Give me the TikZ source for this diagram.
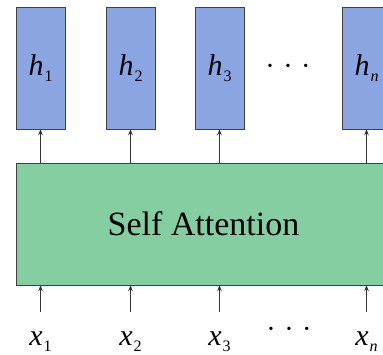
\documentclass[tikz,border=0pt]{standalone}
\usepackage{fontspec}
\setmainfont{Liberation Serif}
\usetikzlibrary{arrows.meta}
\definecolor{hblue}{RGB}{138,165,226}
\definecolor{sgreen}{RGB}{132,206,162}
\newcommand{\vsym}[2]{\textit{#1}\hspace{1pt}\raisebox{-0.45ex}{\fontsize{16}{16}\selectfont #2}}
\newcommand{\bdots}{{\fontsize{14}{14}\selectfont\textbullet\hspace{13pt}\textbullet\hspace{13pt}\textbullet}}

\begin{document}
\begin{tikzpicture}[x=1pt, y=-1pt, every node/.style={font=\fontsize{30}{30}\selectfont},
	hbox/.style={draw=black!75, fill=hblue, minimum width=49pt, minimum height=122pt, inner sep=0pt},
	sabox/.style={draw=black!75, fill=sgreen, minimum width=375pt, minimum height=122pt, inner sep=0pt},
	arr/.style={draw=black!80, line width=0.8pt, -{Stealth[length=6pt,width=4.5pt]}}]
	\clip (0,0) rectangle (383,355);
	\node[hbox] (h1) at (40.5,68) {\vsym{h}{1}};
	\node[hbox] (h2) at (130.5,68) {\vsym{h}{2}};
	\node[hbox] (h3) at (219.5,68) {\vsym{h}{3}};
	\node[hbox] (hn) at (366.5,68) {\vsym{h}{\textit{n}}};
	\node (hdots) at (288,67) {\bdots};
	\node[sabox, font=\fontsize{34}{34}\selectfont] (sa) at (203.5,224) {Self Attention};
	\node[anchor=base] (x1) at (40.5,345) {\vsym{x}{1}};
	\node[anchor=base] (x2) at (130.5,345) {\vsym{x}{2}};
	\node[anchor=base] (x3) at (219.5,345) {\vsym{x}{3}};
	\node[anchor=base] (xn) at (366.5,345) {\vsym{x}{\textit{n}}};
	\node (xdots) at (289,330) {\bdots};
	\foreach \i in {1,2,3,n} {
		\draw[arr] (sa.north -| h\i) -- (h\i);
		\draw[arr, shorten <=16pt] (x\i.north) -- (sa.south -| x\i);
	}
\end{tikzpicture}
\end{document}
